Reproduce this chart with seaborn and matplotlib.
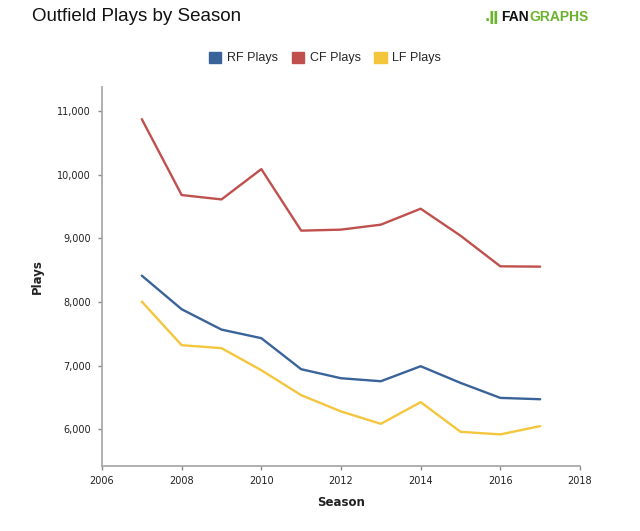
import matplotlib
matplotlib.use("Agg")
import matplotlib.pyplot as plt
import seaborn as sns
import pandas as pd
from matplotlib.patches import Patch

seasons = [2007, 2008, 2009, 2010, 2011, 2012, 2013, 2014, 2015, 2016, 2017]
rf_plays = [8413, 7885, 7565, 7430, 6942, 6800, 6753, 6989, 6727, 6491, 6470]
cf_plays = [10874, 9681, 9612, 10089, 9121, 9137, 9215, 9466, 9042, 8560, 8555]
lf_plays = [8005, 7320, 7273, 6926, 6534, 6278, 6083, 6424, 5958, 5917, 6047]
series_names = ["RF Plays", "CF Plays", "LF Plays"]
series_colors = ["#3a6399", "#c0504d", "#f4c63d"]
x_ticks = [2006, 2008, 2010, 2012, 2014, 2016, 2018]
y_ticks = [6000, 7000, 8000, 9000, 10000, 11000]

df = pd.DataFrame({
    "Season": seasons * 3,
    "Plays": rf_plays + cf_plays + lf_plays,
    "Series": [series_names[0]] * len(seasons) + [series_names[1]] * len(seasons) + [series_names[2]] * len(seasons),
})

sns.set_theme(style="white")
plt.rcParams["font.family"] = ["DejaVu Sans"]

W, H = 640, 531
fig = plt.figure(figsize=(6.4, 5.31), dpi=100)
ax = fig.add_axes([102 / W, 1 - 466 / H, 478 / W, 379 / H])

sns.lineplot(data=df, x="Season", y="Plays", hue="Series", palette=series_colors,
             linewidth=1.7, ax=ax, legend=False)

ax.set_xlim(2006, 2018)
ax.set_ylim(5420, 11380)
ax.set_xticks(x_ticks)
ax.set_xticklabels([str(t) for t in x_ticks])
ax.set_yticks(y_ticks)
ax.set_yticklabels([f"{t:,}" for t in y_ticks])
ax.tick_params(axis="both", direction="out", length=3, width=1, color="#888888",
               labelsize=7, labelcolor="#222222", bottom=True, left=True)
ax.tick_params(axis="x", pad=4)
ax.tick_params(axis="y", pad=5)
for side in ["top", "right"]:
    ax.spines[side].set_visible(False)
for side in ["left", "bottom"]:
    ax.spines[side].set_color("#aaaaaa")
    ax.spines[side].set_linewidth(1.3)

ax.set_xlabel("Season", fontsize=8.5, fontweight="bold", color="#222222")
ax.set_ylabel("Plays", fontsize=8.5, fontweight="bold", color="#222222")
ax.xaxis.set_label_coords(0.5, (466 - 502) / 379)
ax.xaxis.label.set_va("center")
ax.yaxis.set_label_coords((37 - 102) / 478, 0.5)
ax.yaxis.label.set_va("center")

fig.text(32 / W, 1 - 16.5 / H, "Outfield Plays by Season", fontsize=13.5,
         family=["Liberation Sans", "DejaVu Sans"], color="#111111", va="center", ha="left")

icon = fig.text(485 / W, 1 - 17 / H, ".ǁ", fontsize=10, fontweight="bold",
                family=["DejaVu Sans"], color="#6ab42d", va="center", ha="left")
fan = fig.text(501 / W, 1 - 17 / H, "FAN", fontsize=10, fontweight="bold",
               family=["Liberation Sans", "DejaVu Sans"], color="#111111", va="center", ha="left")
fig.text(0, 0, "GRAPHS", fontsize=10, fontweight="bold",
         family=["Liberation Sans", "DejaVu Sans"], color="#6ab42d", va="center", ha="left")
fig.texts[-1].remove()
ax.annotate("GRAPHS", xy=(1, 0.5), xycoords=fan, xytext=(0.5, 0), textcoords="offset points",
            fontsize=10, fontweight="bold", family=["Liberation Sans", "DejaVu Sans"],
            color="#6ab42d", va="center", ha="left", annotation_clip=False)

handles = [Patch(facecolor=c, edgecolor=c, label=n) for n, c in zip(series_names, series_colors)]
fig.legend(handles=handles, loc="center", bbox_to_anchor=(325 / W, 1 - 58 / H), ncol=3,
           frameon=False, handlelength=1.0, handleheight=1.0,
           handletextpad=0.45, columnspacing=1.1,
           prop={"family": ["Liberation Sans", "DejaVu Sans"], "size": 9})

fig.savefig("out.png", dpi=100, facecolor="white")
